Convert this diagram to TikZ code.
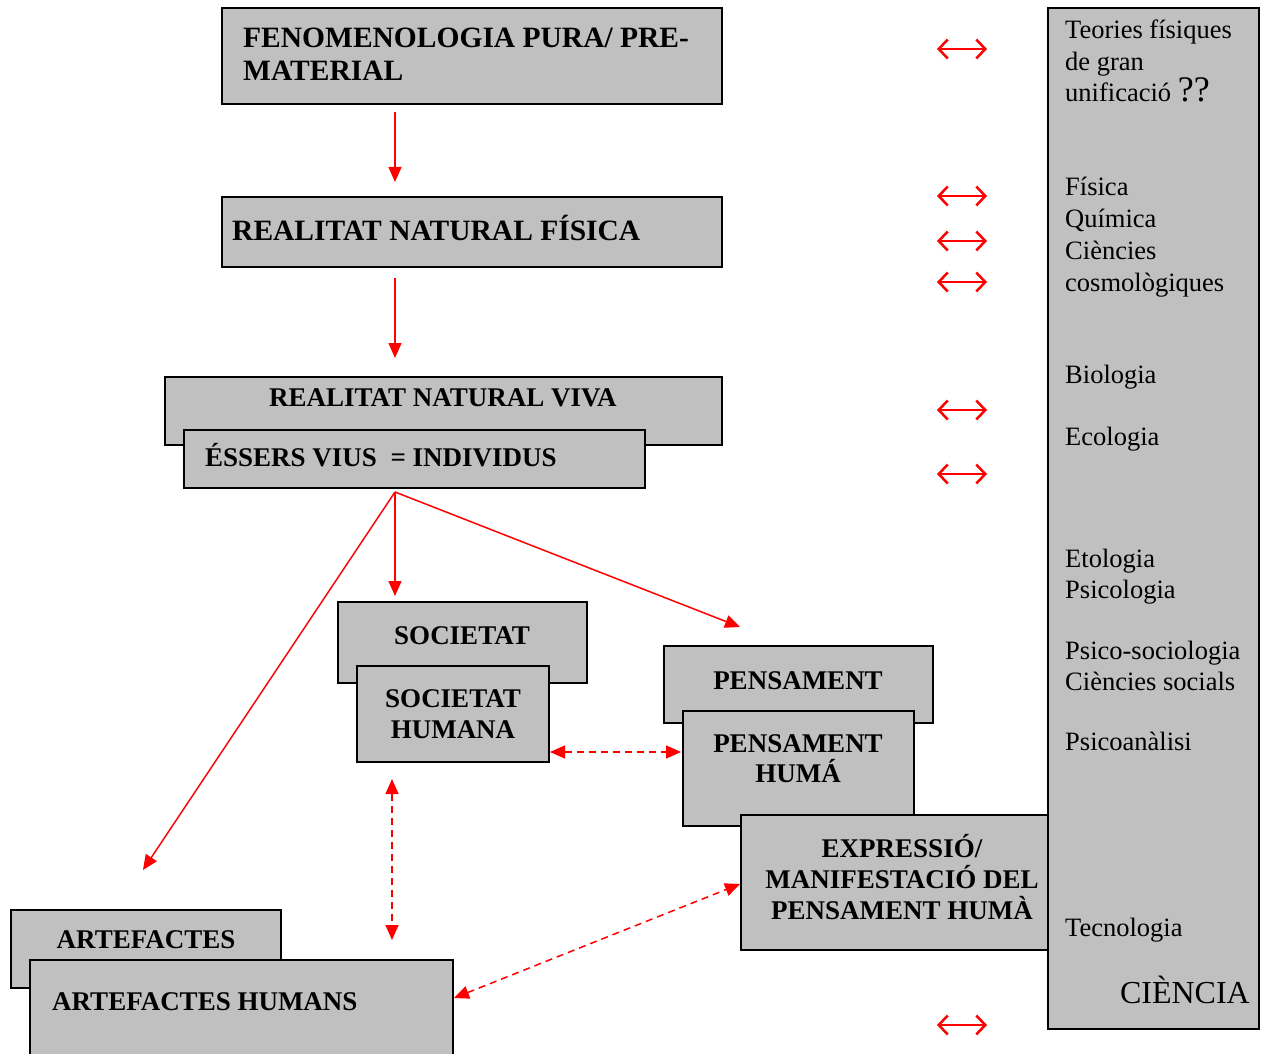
\documentclass[tikz,border=0pt]{standalone}
\usepackage{fontspec}
\setmainfont{Liberation Serif}
\usetikzlibrary{arrows.meta}
\definecolor{boxgray}{RGB}{192,192,192}
\definecolor{linkred}{RGB}{255,0,0}
\begin{document}
\begin{tikzpicture}[x=1pt,y=-1pt,
  box/.style={draw=black, line width=2.5pt, fill=boxgray, inner sep=0pt, outer sep=0pt, anchor=north west},
  head/.style={font=\fontsize{27}{31}\selectfont\bfseries, inner sep=0pt},
  bighead/.style={font=\fontsize{29.5}{33}\selectfont\bfseries, inner sep=0pt},
  sci/.style={font=\fontsize{26.5}{31}\selectfont, inner sep=0pt, anchor=base west},
  flow/.style={draw=linkred, line width=1.5pt, -{Triangle[length=15pt,width=13pt]}},
  link/.style={draw=linkred, line width=1.5pt, dash pattern=on 7pt off 5pt,
    {Triangle[length=15pt,width=13pt]}-{Triangle[length=15pt,width=13pt]}},
  pair/.style={draw=linkred, line width=2.5pt,
    {Straight Barb[length=9pt,width=19pt]}-{Straight Barb[length=9pt,width=19pt]}}]
\clip (0,0) rectangle (1264,1054);
\fill[white] (0,0) rectangle (1264,1054);

% science column
\node[box, minimum width=211pt, minimum height=1021pt] (sci) at (1048,8) {};

% levels of reality
\node[box, minimum width=500pt, minimum height=96pt] (fen) at (222,8) {};
\node[bighead, anchor=base west] (fenA) at (243,48) {FENOMENOLOGIA PURA/ PRE-};
\node[bighead, anchor=base west] (fenB) at (243,81) {MATERIAL};

\node[box, minimum width=500pt, minimum height=70pt] (fis) at (222,197) {};
\node[bighead, anchor=base west] (fisT) at (232,240) {REALITAT NATURAL FÍSICA};

\node[box, minimum width=557pt, minimum height=68pt] (viva) at (165,377) {};
\node[head, anchor=base] (vivaT) at (443,406) {REALITAT NATURAL VIVA};
\node[box, minimum width=461pt, minimum height=58pt] (vius) at (184,430) {};
\node[head, anchor=base west] (viusT) at (205,466) {ÉSSERS VIUS \ = INDIVIDUS};

\node[box, minimum width=249pt, minimum height=81pt] (soc) at (338,602) {};
\node[head, anchor=base] (socT) at (462,644) {SOCIETAT};
\node[box, minimum width=192pt, minimum height=96pt] (socH) at (357,666) {};
\node[head, anchor=base] (socHA) at (453,707) {SOCIETAT};
\node[head, anchor=base] (socHB) at (453,738) {HUMANA};

\node[box, minimum width=269pt, minimum height=77pt] (pen) at (664,646) {};
\node[head, anchor=base] (penT) at (798,689) {PENSAMENT};
\node[box, minimum width=231pt, minimum height=115pt] (penH) at (683,711) {};
\node[head, anchor=base] (penHA) at (798,752) {PENSAMENT};
\node[head, anchor=base] (penHB) at (798,782) {HUMÁ};

\node[box, minimum width=307pt, minimum height=135pt] (exp) at (741,815) {};
\node[head, anchor=base] (expA) at (902,857) {EXPRESSIÓ/};
\node[head, anchor=base] (expB) at (902,888) {MANIFESTACIÓ DEL};
\node[head, anchor=base] (expC) at (902,919) {PENSAMENT HUMÀ};

\node[box, minimum width=270pt, minimum height=78pt] (art) at (11,910) {};
\node[head, anchor=base] (artT) at (146,948) {ARTEFACTES};
\node[box, minimum width=423pt, minimum height=120pt] (artH) at (30,960) {};
\node[head, anchor=base west] (artHT) at (52,1010) {ARTEFACTES HUMANS};

% sciences
\node[sci] (s1) at (1065,39) {Teories físiques};
\node[sci] (s2) at (1065,71) {de gran};
\node[sci] (s3) at (1065,102) {unificació {\fontsize{36}{36}\selectfont ??}};
\node[sci] (s4) at (1065,195) {Física};
\node[sci] (s5) at (1065,227) {Química};
\node[sci] (s6) at (1065,259) {Ciències};
\node[sci] (s7) at (1065,291) {cosmològiques};
\node[sci] (s8) at (1065,383) {Biologia};
\node[sci] (s9) at (1065,445) {Ecologia};
\node[sci] (s10) at (1065,567) {Etologia};
\node[sci] (s11) at (1065,598) {Psicologia};
\node[sci] (s12) at (1065,659) {Psico-sociologia};
\node[sci] (s13) at (1065,690) {Ciències socials};
\node[sci] (s14) at (1065,750) {Psicoanàlisi};
\node[sci] (s15) at (1065,936) {Tecnologia};
\node[font=\fontsize{32}{36}\selectfont, inner sep=0pt, anchor=base east] (cien) at (1250,1003) {CIÈNCIA};

% correspondence marks between levels and sciences
\foreach \y [count=\i] in {49,196,241,282,410,474,1025} {
  \coordinate (pL\i) at (937,\y);
  \coordinate (pR\i) at (987,\y);
  \draw[pair] (pL\i) -- (pR\i);
}

% derivation arrows
\coordinate (fenOut) at (395,112);
\coordinate (fisIn) at (395,182);
\coordinate (fisOut) at (395,278);
\coordinate (vivaIn) at (395,358);
\coordinate (viusOut) at (395,492);
\coordinate (socIn) at (395,596);
\coordinate (penIn) at (740,627);
\coordinate (artIn) at (143,870);
\draw[flow] (fenOut) -- (fisIn);
\draw[flow] (fisOut) -- (vivaIn);
\draw[flow] (viusOut) -- (socIn);
\draw[flow] (viusOut) -- (penIn);
\draw[flow] (viusOut) -- (artIn);

% mutual relations
\coordinate (socR) at (550,752);
\coordinate (penL) at (681,752);
\coordinate (socB) at (392,779);
\coordinate (artTop) at (392,940);
\coordinate (artR) at (454,998);
\coordinate (expL) at (740,884);
\draw[link] (socR) -- (penL);
\draw[link] (socB) -- (artTop);
\draw[link] (artR) -- (expL);
\end{tikzpicture}
\end{document}
